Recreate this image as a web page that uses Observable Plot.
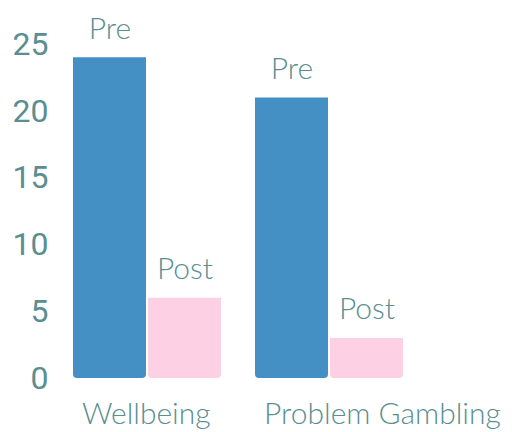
<!DOCTYPE html>
<html>
<head>
<meta charset="utf-8">
<script src="https://cdn.jsdelivr.net/npm/d3@7"></script>
<script src="https://cdn.jsdelivr.net/npm/@observablehq/plot@0.6"></script>
<style>
  html, body { margin: 0; padding: 0; background: #ffffff; }
  #chart { width: 521px; height: 432px; overflow: hidden; }
</style>
</head>
<body>
<div id="chart"></div>
<script>
const categories = ["Wellbeing", "Problem Gambling"];
const phases = ["Pre", "Post"];
const preValues = [24, 21];
const postValues = [6, 3];
const yTicks = [0, 5, 10, 15, 20, 25];

const rows = [];
categories.forEach((c, i) => {
  rows.push({category: c, phase: "Pre", value: preValues[i]});
  rows.push({category: c, phase: "Post", value: postValues[i]});
});

const teal = "#5a8e90";
const blue = "#4490c4";
const pink = "#fdd1e3";
const lightFont = "Lato, Roboto, sans-serif";

const chart = Plot.plot({
  width: 521,
  height: 432,
  marginLeft: 72,
  marginRight: 116,
  marginTop: 44,
  marginBottom: 54,
  style: {fontFamily: "Roboto, 'Open Sans', sans-serif", background: "#ffffff"},
  fx: {domain: categories, paddingInner: 0.18, paddingOuter: 0, label: null},
  x: {domain: phases, paddingInner: 0.026, paddingOuter: 0, axis: null},
  y: {domain: [0, 25], label: null},
  color: {domain: phases, range: [blue, pink]},
  marks: [
    Plot.axisY({ticks: yTicks, tickSize: 0, tickPadding: 25, fontSize: 32, fill: teal, label: null}),
    Plot.axisFx({anchor: "bottom", tickSize: 0, tickPadding: 24, fontSize: 30, fontWeight: 300, fontFamily: lightFont, fill: teal, textAnchor: "start", dx: -66, label: null}),
    Plot.barY(rows, {fx: "category", x: "phase", y: "value", fill: "phase", ry2: 4}),
    Plot.text(rows, {fx: "category", x: "phase", y: "value", text: "phase", dy: -19, lineAnchor: "bottom", fontSize: 30, fontWeight: 300, fontFamily: lightFont, fill: teal})
  ]
});
document.getElementById("chart").appendChild(chart);
</script>
</body>
</html>
